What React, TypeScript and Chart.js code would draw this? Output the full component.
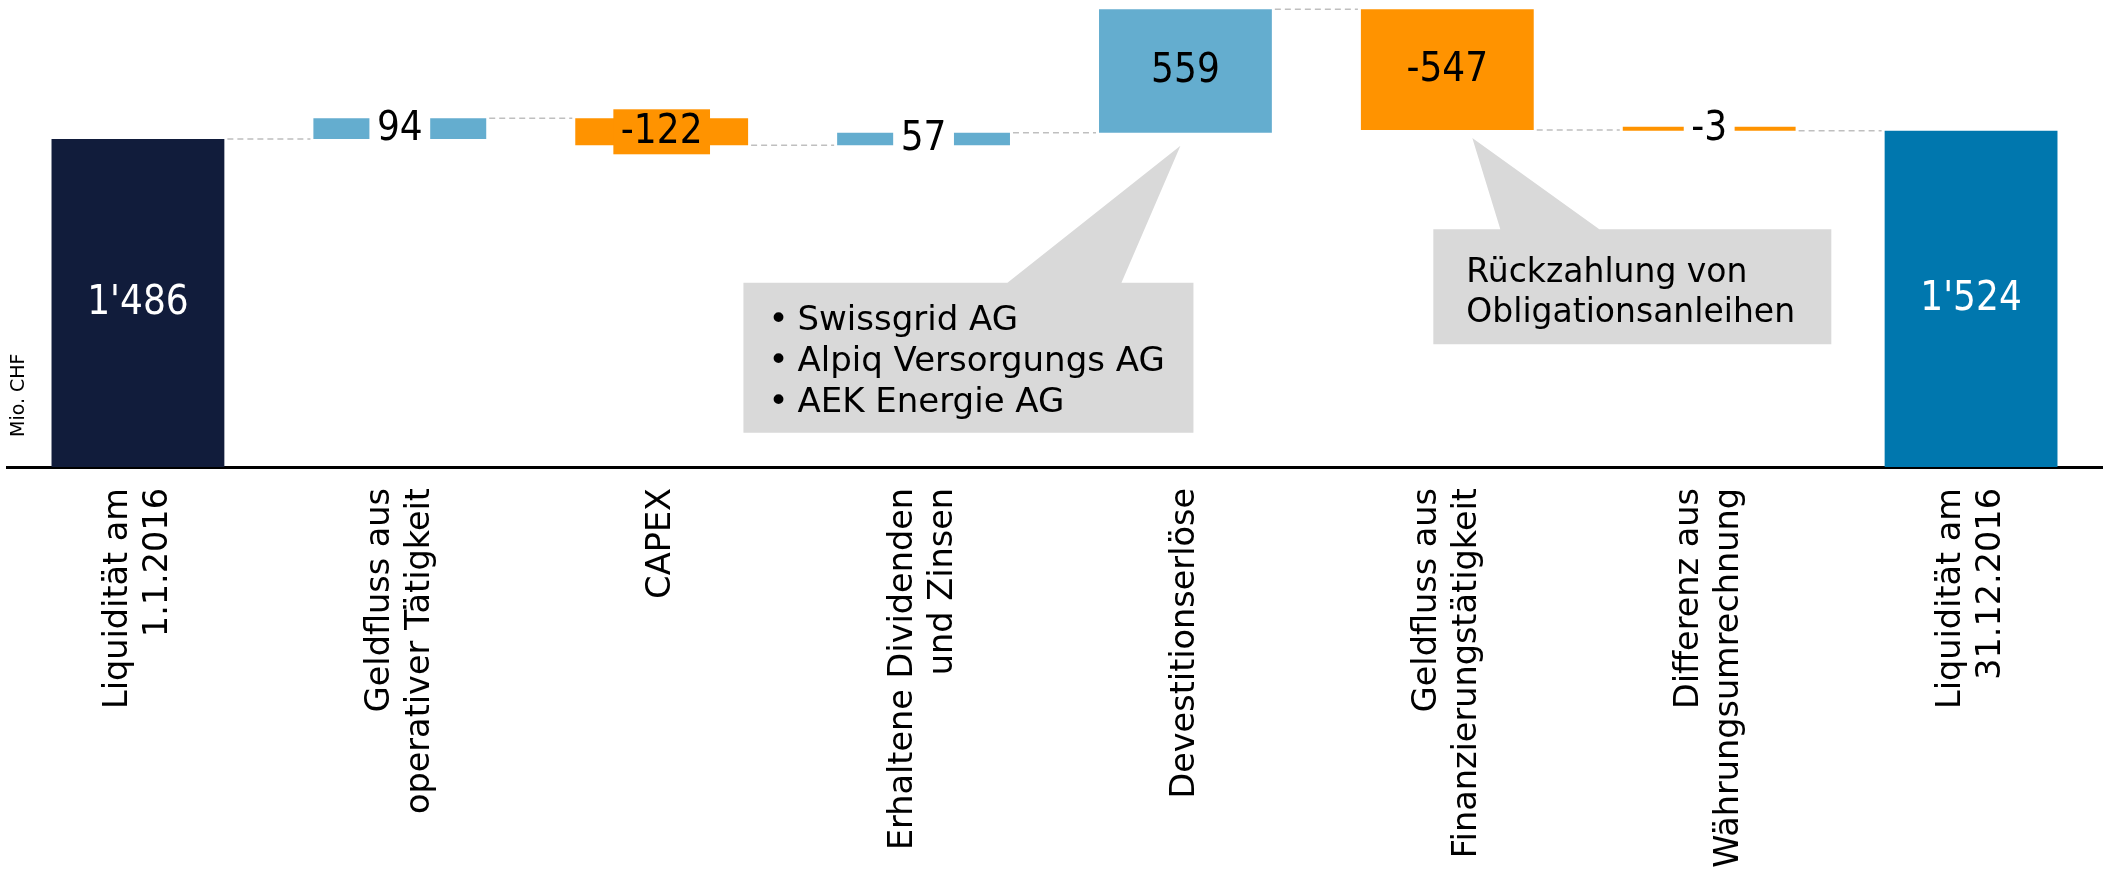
import { useEffect, useRef } from "react";
import { Chart, registerables } from "chart.js";

Chart.register(...registerables);

// Category captions (multi-line, drawn rotated under the axis)
const categories: string[][] = [
  ["Liquidität am", "1.1.2016"],
  ["Geldfluss aus", "operativer Tätigkeit"],
  ["CAPEX"],
  ["Erhaltene Dividenden", "und Zinsen"],
  ["Devestitionserlöse"],
  ["Geldfluss aus", "Finanzierungstätigkeit"],
  ["Differenz aus", "Währungsumrechnung"],
  ["Liquidität am", "31.12.2016"],
];

// Liquidity bridge in Mio. CHF
const openingBalance = 1486;
const movements = [94, -122, 57, 559, -547, -3];
const closingBalance = 1524;

const unitLabel = "Mio. CHF";
const yMin = 0;
const yMax = 2080;

const noteDivestments = ["Swissgrid AG", "Alpiq Versorgungs AG", "AEK Energie AG"];
const noteFinancing = ["Rückzahlung von", "Obligationsanleihen"];

// Colours
const COLOR_START = "#111C3B";
const COLOR_END = "#0077AE";
const COLOR_UP = "#64ADCF";
const COLOR_DOWN = "#FF9300";
const COLOR_NOTE = "#D9D9D9";
const COLOR_CONNECTOR = "#BFBFBF";

const FONT_TEXT = '"DejaVu Sans", Verdana, sans-serif';
const FONT_VALUE = '"DejaVu Sans Condensed", "DejaVu Sans", sans-serif';

// Floating bar ranges built from the balances and the movements
const barValues = [openingBalance, ...movements, closingBalance];
const ranges: [number, number][] = [[0, openingBalance]];
{
  let level = openingBalance;
  for (const m of movements) {
    ranges.push([level, level + m]);
    level += m;
  }
}
ranges.push([0, closingBalance]);

const barColors = barValues.map((v, i) =>
  i === 0 ? COLOR_START : i === barValues.length - 1 ? COLOR_END : v >= 0 ? COLOR_UP : COLOR_DOWN
);

// Value label look per bar: text colour and optional backing box
const labelStyles: { color: string; box: string | null }[] = [
  { color: "#FFFFFF", box: null },
  { color: "#000000", box: "#FFFFFF" },
  { color: "#000000", box: COLOR_DOWN },
  { color: "#000000", box: "#FFFFFF" },
  { color: "#000000", box: null },
  { color: "#000000", box: null },
  { color: "#000000", box: "#FFFFFF" },
  { color: "#FFFFFF", box: null },
];

// Speech-bubble notes, anchored to a bar (offsets from bar centre / bar bottom)
const callouts = [
  {
    bar: 4,
    lines: noteDivestments,
    bullets: true,
    fontSize: 34,
    tip: [-5, 13],
    base: [-178, -64],
    box: [-442, 150, 8, 300],
    textX: 54,
    bulletX: 35,
    firstBaseline: 47.3,
    lineGap: 41,
  },
  {
    bar: 5,
    lines: noteFinancing,
    bullets: false,
    fontSize: 33,
    tip: [25, 8],
    base: [53, 152],
    box: [-14, 99.3, 384, 214.3],
    textX: 33,
    bulletX: 0,
    firstBaseline: 52.4,
    lineGap: 40,
  },
];

const formatValue = (n: number) =>
  (n < 0 ? "-" : "") + String(Math.abs(n)).replace(/\B(?=(\d{3})+(?!\d))/g, "'");

const waterfallDecor = {
  id: "waterfallDecor",
  afterDatasetsDraw(chart: any) {
    const ctx: CanvasRenderingContext2D = chart.ctx;
    const meta = chart.getDatasetMeta(0);
    const yScale = chart.scales.y;
    const xScale = chart.scales.x;
    const area = chart.chartArea;
    const bars = meta.data.map((el: any) => el.getProps(["x", "y", "base", "width"], true));

    // dashed connectors between consecutive bars
    ctx.save();
    ctx.setLineDash([6, 4]);
    ctx.strokeStyle = COLOR_CONNECTOR;
    ctx.lineWidth = 1.5;
    for (let i = 0; i < bars.length - 1; i++) {
      const a = bars[i];
      const b = bars[i + 1];
      const py = yScale.getPixelForValue(ranges[i][1]);
      ctx.beginPath();
      ctx.moveTo(a.x + a.width / 2 + 3, py);
      ctx.lineTo(b.x - b.width / 2 - 3, py);
      ctx.stroke();
    }
    ctx.restore();

    // notes
    for (const c of callouts) {
      const b = bars[c.bar];
      const ax = b.x;
      const ay = Math.max(b.y, b.base);
      const left = ax + c.box[0];
      const top = ay + c.box[1];
      const right = ax + c.box[2];
      const bottom = ay + c.box[3];
      ctx.save();
      ctx.fillStyle = COLOR_NOTE;
      ctx.beginPath();
      ctx.moveTo(left, top);
      ctx.lineTo(ax + c.base[0], top);
      ctx.lineTo(ax + c.tip[0], ay + c.tip[1]);
      ctx.lineTo(ax + c.base[1], top);
      ctx.lineTo(right, top);
      ctx.lineTo(right, bottom);
      ctx.lineTo(left, bottom);
      ctx.closePath();
      ctx.fill();
      ctx.fillStyle = "#000000";
      ctx.font = `${c.fontSize}px ${FONT_TEXT}`;
      ctx.textBaseline = "alphabetic";
      c.lines.forEach((line, k) => {
        const by = top + c.firstBaseline + k * c.lineGap;
        if (c.bullets) {
          ctx.textAlign = "center";
          ctx.fillText("•", left + c.bulletX, by);
        }
        ctx.textAlign = "left";
        ctx.fillText(line, left + c.textX, by);
      });
      ctx.restore();
    }

    // value labels
    ctx.save();
    ctx.font = `40px ${FONT_VALUE}`;
    ctx.textAlign = "center";
    ctx.textBaseline = "middle";
    bars.forEach((b: any, i: number) => {
      const text = formatValue(barValues[i]);
      const cx = b.x;
      const cy = (b.y + b.base) / 2;
      const st = labelStyles[i];
      if (st.box) {
        const w = ctx.measureText(text).width + 15;
        ctx.fillStyle = st.box;
        ctx.fillRect(cx - w / 2, cy - 22.5, w, 45);
      }
      ctx.fillStyle = st.color;
      ctx.fillText(text, cx, cy + 1);
    });
    ctx.restore();

    // rotated category captions
    ctx.save();
    ctx.font = `33.5px ${FONT_TEXT}`;
    ctx.fillStyle = "#000000";
    const lineHeight = 40;
    categories.forEach((lines, i) => {
      const px = xScale.getPixelForValue(i);
      ctx.save();
      ctx.translate(px, area.bottom + 21);
      ctx.rotate(-Math.PI / 2);
      ctx.textAlign = "right";
      ctx.textBaseline = "middle";
      lines.forEach((ln, k) => {
        ctx.fillText(ln, 0, (k - (lines.length - 1) / 2) * lineHeight);
      });
      ctx.restore();
    });
    ctx.restore();

    // unit caption
    ctx.save();
    ctx.font = `19px ${FONT_TEXT}`;
    ctx.fillStyle = "#000000";
    ctx.translate(area.left + 12, area.bottom - 30);
    ctx.rotate(-Math.PI / 2);
    ctx.textAlign = "left";
    ctx.textBaseline = "middle";
    ctx.fillText(unitLabel, 0, 0);
    ctx.restore();
  },
};

export default function App() {
  const canvasRef = useRef<HTMLCanvasElement | null>(null);

  useEffect(() => {
    if (!canvasRef.current) return;
    const chart = new Chart(canvasRef.current, {
      type: "bar",
      data: {
        labels: categories.map((c) => c.join(" ")),
        datasets: [
          {
            data: ranges as any,
            backgroundColor: barColors,
            borderWidth: 0,
            barPercentage: 0.66,
            categoryPercentage: 1,
            minBarLength: 4,
          },
        ],
      },
      options: {
        animation: false,
        responsive: true,
        maintainAspectRatio: false,
        layout: { padding: { left: 7, right: 3, top: 8, bottom: 0 } },
        plugins: {
          legend: { display: false },
          tooltip: { enabled: false },
        },
        scales: {
          x: {
            grid: { display: false },
            border: { display: true, color: "#000000", width: 3 },
            ticks: { display: false },
            afterFit: (scale: any) => {
              scale.height = 411;
            },
          },
          y: {
            display: false,
            min: yMin,
            max: yMax,
          },
        },
      },
      plugins: [waterfallDecor],
    });
    return () => chart.destroy();
  }, []);

  return (
    <div style={{ position: "fixed", left: 0, top: 0, width: "2105px", height: "878px", background: "#FFFFFF" }}>
      <canvas ref={canvasRef} />
    </div>
  );
}
